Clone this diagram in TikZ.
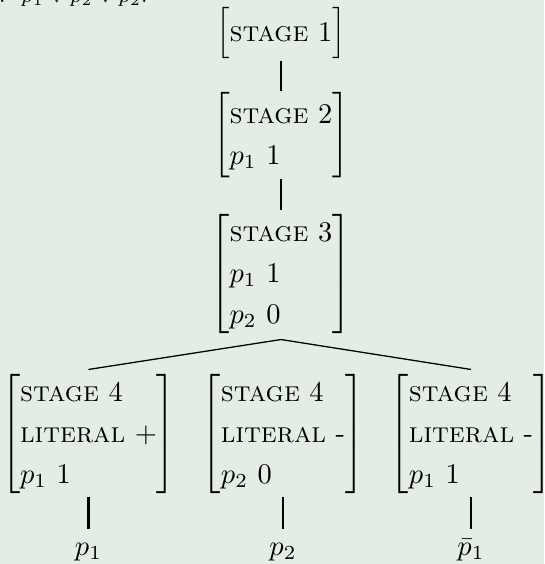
\documentclass[tikz,border=0pt]{standalone}
\usetikzlibrary{calc}

\definecolor{paper}{RGB}{227,237,227}

% attribute-value box: rows left-aligned between tall square brackets
\newcommand\featbox[1]{$\left[\renewcommand\arraystretch{1.2}\begin{tabular}{@{}l@{}}#1\end{tabular}\right]$}

\tikzset{
  fs/.style={inner sep=0pt, outer sep=0pt},
  leaf/.style={inner sep=0pt, anchor=base},
  stem/.style={line width=0.8pt},
  branch/.style={line width=0.45pt},
}

\begin{document}
\begin{tikzpicture}[x=0.351pt, y=-0.351pt]
  \fill[paper] (0,0) rectangle (544,564);
  \useasboundingbox (0,0) rectangle (544,564);

  % clause heading, mostly above the page edge
  \node[anchor=base west, inner sep=0pt] (clause) at (-1.5,2.5)
    {\scriptsize :\hspace{5.5pt}$p_1 \vee p_2 \vee p_2$.};

  % chain of stages
  \node[fs] (s1) at (281,33)    {\featbox{\textsc{stage} 1}};
  \node[fs] (s2) at (281,135.5) {\featbox{\textsc{stage} 2\\ $p_1$\ 1}};
  \node[fs] (s3) at (281,274)   {\featbox{\textsc{stage} 3\\ $p_1$\ 1\\ $p_2$\ 0}};

  % stage 4 alternatives
  \node[fs] (s4a) at (88.5,434) {\featbox{\textsc{stage} 4\\ \textsc{literal} +\\ $p_1$\ 1}};
  \node[fs] (s4b) at (283,434)  {\featbox{\textsc{stage} 4\\ \textsc{literal} -\\ $p_2$\ 0}};
  \node[fs] (s4c) at (471,434)  {\featbox{\textsc{stage} 4\\ \textsc{literal} -\\ $p_1$\ 1}};

  % leaves
  \node[leaf] (l1) at (88.5,555) {$p_1$};
  \node[leaf] (l2) at (283,555)  {$p_2$};
  \node[leaf] (l3) at (471,555)  {$\bar{p}_1$};

  % vertical links
  \draw[stem] ($(s1.south)+(0,2)$) -- ($(s2.north)+(0,-2)$);
  \draw[stem] ($(s2.south)+(0,1)$) -- ($(s3.north)+(0,-2)$);

  % branching from stage 3
  \coordinate (apex) at ($(s3.south)+(0,4)$);
  \coordinate (ta) at ($(s4a.north)+(0,-3)$);
  \coordinate (tc) at ($(s4c.north)+(0,-3)$);
  \draw[branch] (apex) -- (ta);
  \draw[branch] (apex) -- (tc);

  % stems down to the leaves
  \draw[stem] ($(s4a.south)+(0,1.5)$) -- ($(l1.base)+(0,-26)$);
  \draw[stem] ($(s4b.south)+(0,1.5)$) -- ($(l2.base)+(0,-26)$);
  \draw[stem] ($(s4c.south)+(0,1.5)$) -- ($(l3.base)+(0,-26)$);
\end{tikzpicture}
\end{document}
